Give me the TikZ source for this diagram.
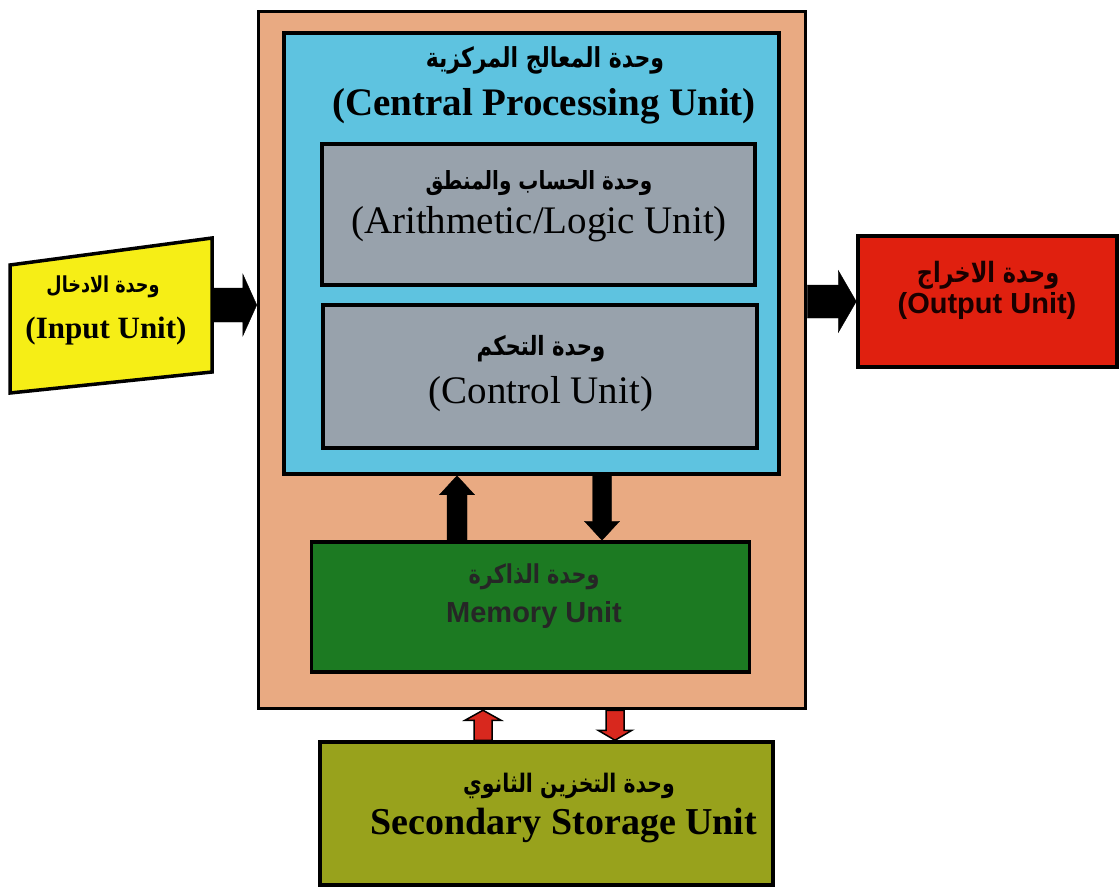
\documentclass[tikz,border=0pt]{standalone}
\usepackage{fontspec}
\setmainfont{Liberation Serif}
\newfontfamily\arfont[Script=Arabic,FakeStretch=0.8]{DejaVu Sans}
\newfontfamily\lsans{Liberation Sans}
\TeXXeTstate=1
\usetikzlibrary{calc}
\definecolor{peach}{HTML}{E9AA82}
\definecolor{cpucyan}{HTML}{5EC3E0}
\definecolor{unitgray}{HTML}{98A2AC}
\definecolor{memgreen}{HTML}{1C7A22}
\definecolor{ssolive}{HTML}{98A21C}
\definecolor{inyellow}{HTML}{F6EE16}
\definecolor{outred}{HTML}{E0200F}
\definecolor{arrred}{HTML}{D8281E}
% block arrow: [style]{from}{to}{half shaft}{half head}{head length}
\newcommand\blockarrow[6][]{%
  \draw[#1] let \p1=(#2), \p2=(#3),
    \n1={veclen(\x2-\x1,\y2-\y1)}, \n2={(\x2-\x1)/\n1}, \n3={(\y2-\y1)/\n1} in
    ({\x1-#4*\n3},{\y1+#4*\n2}) --
    ({\x2-#6*\n2-#4*\n3},{\y2-#6*\n3+#4*\n2}) --
    ({\x2-#6*\n2-#5*\n3},{\y2-#6*\n3+#5*\n2}) --
    (\x2,\y2) --
    ({\x2-#6*\n2+#5*\n3},{\y2-#6*\n3-#5*\n2}) --
    ({\x2-#6*\n2+#4*\n3},{\y2-#6*\n3-#4*\n2}) --
    ({\x1+#4*\n3},{\y1-#4*\n2}) -- cycle;}
\begin{document}
\begin{tikzpicture}[x=1pt,y=-1pt,
  box/.style={draw=black, line width=3.5pt, inner sep=0pt, rectangle},
  en/.style={inner sep=0pt, font=\bfseries\fontsize{39}{44}\selectfont},
  enr/.style={inner sep=0pt, font=\fontsize{39}{44}\selectfont},
  ens/.style={inner sep=0pt, font=\lsans\bfseries\fontsize{29}{34}\selectfont},
  ar/.style={inner sep=0pt, font=\arfont\bfseries\fontsize{#1}{30}\selectfont},
  ar/.default=26,
  blackarrow/.style={fill=black},
  redarrow/.style={fill=arrred, draw=black, line width=1.5pt, line join=miter}]
\useasboundingbox (0,0) rectangle (1119,888);
\fill[white] (0,0) rectangle (1119,888);

% outer system box
\node[box, fill=peach, minimum width=547, minimum height=697] (outer) at (532,360) {};
% CPU
\node[box, fill=cpucyan, minimum width=495, minimum height=441] (cpu) at (531.5,253.5) {};
\node[ar=27.5] (cpuar) at (545,60) {\beginR وحدة المعالج المركزية\endR};
\node[en] (cpuen) at (544,106) {(Central Processing Unit)};
% ALU
\node[box, fill=unitgray, minimum width=433, minimum height=141] (alu) at (538.5,214.5) {};
\node[ar=25] (aluar) at (539,183) {\beginR وحدة الحساب والمنطق\endR};
\node[enr] (aluen) at (539,224) {(Arithmetic/Logic Unit)};
% Control unit
\node[box, fill=unitgray, minimum width=434, minimum height=143] (cu) at (540,376.5) {};
\node[ar=26.5] (cuar) at (541,349) {\beginR وحدة التحكم\endR};
\node[enr] (cuen) at (541,394) {(Control Unit)};
% Memory
\node[box, fill=memgreen, minimum width=438, minimum height=130] (mem) at (530.5,607) {};
\node[ar=26, text=black!85] (memar) at (534,577) {\beginR وحدة الذاكرة\endR};
\node[ens, text=black!85] (memen) at (534,615) {Memory Unit};
% Secondary storage
\node[box, fill=ssolive, minimum width=453, minimum height=143] (ss) at (546.5,813.5) {};
\node[ar=25.5] (ssar) at (569,786) {\beginR وحدة التخزين الثانوي\endR};
\node[en, font=\bfseries\fontsize{38}{44}\selectfont] (ssen) at (564,826) {Secondary Storage Unit};
% Input (slanted card)
\fill[inyellow, draw=black, line width=3.5pt, line join=miter]
  (10,265) -- (212,238) -- (212,372) -- (10,393) -- cycle;
\node[inner sep=0pt, minimum width=202, minimum height=134] (in) at (111,305) {};
\node[ar=22] (inar) at (103,287) {\beginR وحدة الادخال\endR};
\node[en, font=\bfseries\fontsize{31}{36}\selectfont] (inen) at (106,331) {(Input Unit)};
% Output
\node[box, fill=outred, minimum width=259, minimum height=131] (out) at (987.5,301.5) {};
\node[ar=28, text=black!90!red] (outar) at (988,275) {\beginR وحدة الاخراج\endR};
\node[ens, text=black!90!red] (outen) at (987,306) {(Output Unit)};

% connectors
\coordinate (upx) at (457,0);
\coordinate (dnx) at (602,0);
\coordinate (rupx) at (483,0);
\coordinate (rdnx) at (615,0);
\blockarrow[blackarrow]{in.east}{outer.west |- in.east}{17}{31}{14}
\blockarrow[blackarrow]{outer.east |- out.west}{out.west}{16.5}{31}{18}
\blockarrow[blackarrow]{mem.north -| upx}{cpu.south -| upx}{10}{17.5}{19}
\blockarrow[blackarrow]{cpu.south -| dnx}{mem.north -| dnx}{9.5}{17.5}{19}
\blockarrow[redarrow]{ss.north -| rupx}{outer.south -| rupx}{9}{18}{10}
\blockarrow[redarrow]{outer.south -| rdnx}{ss.north -| rdnx}{9}{17}{10}
\end{tikzpicture}
\end{document}
